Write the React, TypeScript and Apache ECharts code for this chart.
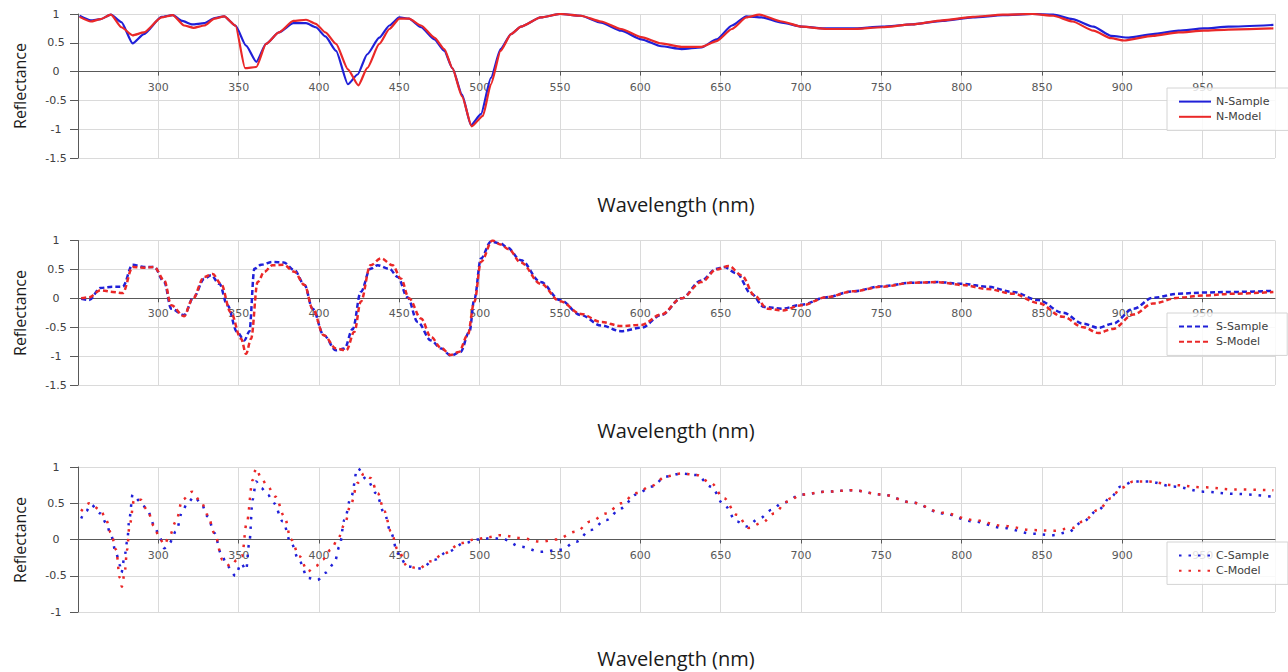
import React, { useEffect, useRef } from "react";
import * as echarts from "echarts";

// Wavelength (nm), Reflectance pairs
const nSample: [number, number][] = [
  [251, 0.97], [258, 0.89], [264, 0.91], [270.5, 0.99], [277, 0.86], [284, 0.49], [291, 0.65],
  [302, 0.95], [309, 0.98], [315, 0.88], [321, 0.82], [328.6, 0.84], [335, 0.93], [341, 0.96],
  [348, 0.8], [354.6, 0.45], [361, 0.17], [367, 0.48], [375, 0.68], [384, 0.84], [392, 0.84],
  [398, 0.77], [404, 0.61], [410.6, 0.36], [418, -0.22], [424, -0.05], [430, 0.3], [437.5, 0.59],
  [443.8, 0.8], [450, 0.94], [456, 0.92], [463.5, 0.77], [471.8, 0.56], [478, 0.36], [483, 0.06],
  [489, -0.4], [494.6, -0.93], [500.8, -0.74], [507, -0.11], [513, 0.39], [519.5, 0.65],
  [525.7, 0.78], [538, 0.94], [550, 1.0], [563, 0.97], [575.6, 0.85], [588, 0.71], [600.6, 0.56],
  [613, 0.44], [625.6, 0.39], [638, 0.42], [647.5, 0.56], [657, 0.8], [666, 0.96], [675.6, 0.94],
  [688, 0.85], [700.6, 0.78], [716, 0.75], [732, 0.75], [750.6, 0.78], [769, 0.82], [788, 0.88],
  [807, 0.94], [825.6, 0.98], [844, 1.0], [857, 0.99], [869, 0.91], [882, 0.78], [893, 0.62],
  [904, 0.59], [919, 0.65], [935, 0.71], [950.6, 0.75], [966, 0.78], [994, 0.81],
];

const nModel: [number, number][] = [
  [251, 0.95], [258, 0.87], [264, 0.91], [270.5, 0.99], [277, 0.77], [284, 0.63], [291, 0.68],
  [302, 0.94], [309, 0.98], [316, 0.8], [322, 0.76], [328.6, 0.8], [335, 0.92], [341, 0.96],
  [348, 0.8], [354, 0.06], [361, 0.08], [367, 0.48], [375, 0.68], [384, 0.88], [392, 0.9],
  [398, 0.83], [404, 0.68], [410.6, 0.48], [418, 0.04], [424.5, -0.24], [430, 0.06], [437.5, 0.48],
  [443.8, 0.74], [450, 0.92], [456, 0.92], [463.5, 0.8], [471.8, 0.59], [478, 0.39], [483, 0.06],
  [489, -0.43], [495, -0.95], [502, -0.77], [507, -0.22], [513, 0.36], [519.5, 0.65],
  [525.7, 0.78], [538, 0.94], [550, 1.0], [563, 0.97], [575.6, 0.87], [588, 0.74], [600.6, 0.6],
  [613, 0.49], [625.6, 0.43], [638, 0.43], [647.5, 0.53], [657, 0.74], [666, 0.94], [674, 0.99],
  [688, 0.87], [700.6, 0.78], [716, 0.74], [732, 0.74], [750.6, 0.77], [769, 0.82], [788, 0.89],
  [807, 0.95], [825.6, 0.99], [844, 1.0], [857, 0.97], [869, 0.87], [882, 0.71], [893, 0.58],
  [901, 0.54], [919, 0.62], [935, 0.68], [950.6, 0.71], [966, 0.73], [994, 0.75],
];

const sSample: [number, number][] = [
  [252, -0.01], [257, -0.03], [264, 0.18], [271.6, 0.2], [277.8, 0.2], [284, 0.58], [291, 0.54],
  [297.5, 0.54], [303.7, 0.28], [308, -0.18], [316, -0.29], [322, 0.02], [328.6, 0.34],
  [332.8, 0.4], [338, 0.25], [343, -0.12], [349, -0.58], [353.5, -0.73], [356.6, -0.58],
  [359.8, 0.51], [364, 0.58], [371, 0.63], [378, 0.62], [384.6, 0.49], [391, 0.23], [396, -0.18],
  [403, -0.64], [410.6, -0.9], [415.8, -0.87], [421, -0.53], [426, 0.11], [432, 0.51],
  [436.5, 0.57], [443.8, 0.51], [449, 0.37], [455, 0.02], [461.4, -0.41], [469.7, -0.73],
  [476, -0.87], [482, -0.99], [488, -0.93], [493.6, -0.58], [496.7, -0.01], [500.8, 0.69],
  [507, 0.98], [513, 0.95], [517, 0.88], [525.6, 0.66], [538, 0.28], [550, -0.03], [563, -0.29],
  [575.6, -0.47], [588, -0.57], [600.6, -0.51], [613, -0.29], [625.6, 0], [638, 0.31],
  [647.5, 0.51], [652, 0.54], [660, 0.43], [669, 0.08], [677, -0.15], [688, -0.18],
  [700.6, -0.11], [716, 0.02], [732, 0.12], [750.6, 0.21], [769, 0.27], [785, 0.28],
  [800.6, 0.25], [816, 0.2], [832, 0.11], [847.5, -0.03], [863, -0.25], [875.6, -0.44],
  [885, -0.51], [894, -0.44], [907, -0.18], [919, 0.01], [935, 0.08], [950.6, 0.1], [969, 0.11],
  [994, 0.13],
];

const sModel: [number, number][] = [
  [252, 0], [257, 0.02], [264, 0.14], [271.6, 0.11], [277.8, 0.09], [284, 0.54], [291, 0.53],
  [297.5, 0.54], [303.7, 0.31], [308, -0.12], [316, -0.31], [321, -0.03], [328.6, 0.37],
  [333.8, 0.42], [339, 0.25], [345, -0.24], [351.5, -0.7], [354.6, -0.96], [357.7, -0.7],
  [361.8, 0.28], [366, 0.46], [371, 0.57], [378, 0.58], [384.6, 0.46], [391, 0.23], [396, -0.18],
  [403, -0.64], [410.6, -0.87], [417, -0.9], [422, -0.58], [426, -0.06], [432, 0.57],
  [438.6, 0.69], [445.9, 0.57], [451, 0.34], [456, 0], [463.5, -0.35], [469.7, -0.67],
  [476, -0.86], [482, -0.98], [487, -0.93], [492.5, -0.64], [496.7, -0.06], [500.8, 0.63],
  [508, 1.0], [513, 0.93], [518, 0.85], [525.6, 0.62], [538, 0.25], [550, -0.05], [563, -0.27],
  [575.6, -0.41], [588, -0.48], [600.6, -0.46], [613, -0.28], [625.6, 0], [638, 0.28],
  [647.5, 0.5], [655, 0.56], [663, 0.4], [671, 0.05], [679, -0.18], [688, -0.21],
  [700.6, -0.12], [716, 0.02], [732, 0.12], [750.6, 0.2], [769, 0.27], [785, 0.28],
  [800.6, 0.23], [816, 0.16], [832, 0.08], [847.5, -0.08], [863, -0.32], [875.6, -0.5],
  [885, -0.6], [894, -0.53], [907, -0.28], [919, -0.09], [935, 0.01], [950.6, 0.05], [969, 0.08],
  [994, 0.11],
];

const cSample: [number, number][] = [
  [252, 0.29], [255, 0.39], [258, 0.48], [264, 0.36], [267.5, 0.23], [270.5, 0.06],
  [273.7, -0.19], [276, -0.35], [277, -0.46], [279, -0.23], [280.6, -0.03], [282, 0.29],
  [284, 0.62], [289, 0.52], [293, 0.41], [297.5, 0.2], [300.6, 0.04], [303.7, -0.12],
  [306.8, -0.05], [311, 0.11], [315, 0.39], [318, 0.5], [322.4, 0.59], [326.6, 0.5],
  [330.7, 0.32], [334.9, 0.09], [339, -0.19], [343, -0.37], [348, -0.5], [351.5, -0.33],
  [354.6, -0.42], [356.6, -0.05], [358.7, 0.55], [360.8, 0.8], [364, 0.71], [368, 0.62],
  [372, 0.5], [377.4, 0.25], [382.6, -0.05], [387.8, -0.3], [393, -0.53], [399, -0.56],
  [404, -0.46], [409.5, -0.33], [412.7, -0.1], [415.8, 0.27], [420, 0.59], [424, 0.98],
  [430, 0.82], [435.5, 0.64], [440.7, 0.36], [444.8, 0.09], [449, -0.19], [455, -0.37],
  [463.5, -0.4], [471.8, -0.28], [480, -0.17], [490.5, -0.05], [498.8, 0], [508, 0.02],
  [515, 0], [525.6, -0.1], [538, -0.17], [550.6, -0.14], [560, -0.03], [569, 0.13],
  [578.8, 0.27], [588, 0.43], [597.5, 0.62], [607, 0.73], [616, 0.87], [625.6, 0.91],
  [635, 0.89], [644, 0.73], [652, 0.48], [660, 0.25], [666, 0.18], [674, 0.29], [682, 0.41],
  [688, 0.5], [700.6, 0.62], [716, 0.66], [732, 0.68], [750.6, 0.62], [769, 0.51], [788, 0.36],
  [807, 0.25], [825.6, 0.16], [844, 0.08], [857, 0.06], [866, 0.1], [875.6, 0.25], [885, 0.41],
  [893, 0.59], [899, 0.73], [907, 0.8], [916, 0.8], [932, 0.73], [950.6, 0.66], [969, 0.63],
  [994, 0.59],
];

const cModel: [number, number][] = [
  [252, 0.39], [257, 0.5], [264, 0.41], [267.5, 0.27], [270.5, 0.09], [273.7, -0.14],
  [276, -0.53], [277.3, -0.65], [279, -0.46], [280.6, -0.14], [282, 0.18], [285, 0.55],
  [289, 0.55], [293, 0.41], [297.5, 0.18], [300.6, 0.02], [303.7, -0.07], [306.8, 0.04],
  [311, 0.25], [315, 0.55], [321, 0.66], [326.6, 0.52], [330.7, 0.34], [334.9, 0.09],
  [340, -0.28], [345, -0.37], [349, -0.28], [352, -0.23], [355, 0.23], [358.7, 0.82],
  [360.8, 0.98], [364, 0.85], [368, 0.73], [373, 0.59], [378.4, 0.32], [382.6, 0],
  [387.8, -0.23], [393, -0.44], [398, -0.37], [402, -0.28], [407.5, -0.14], [411.6, 0],
  [415.8, 0.2], [420, 0.5], [424, 0.78], [428, 0.91], [432, 0.85], [436.5, 0.64], [440.7, 0.39],
  [444.8, 0.11], [449, -0.14], [455, -0.37], [462, -0.4], [469.7, -0.3], [478, -0.19],
  [488.5, -0.05], [496.7, 0], [505, 0.03], [513, 0.06], [525.6, 0.02], [538, -0.03],
  [547.5, 0], [560, 0.11], [569, 0.25], [578.8, 0.36], [588, 0.5], [597.5, 0.64], [607, 0.74],
  [616, 0.87], [625.6, 0.91], [635, 0.89], [644, 0.78], [652, 0.57], [660, 0.34], [667.5, 0.16],
  [675.6, 0.23], [683.4, 0.36], [691, 0.52], [700.6, 0.62], [716, 0.66], [732, 0.68],
  [750.6, 0.62], [769, 0.51], [788, 0.37], [807, 0.27], [825.6, 0.19], [844, 0.13], [857, 0.12],
  [869, 0.16], [875.6, 0.25], [885, 0.41], [893, 0.57], [899, 0.71], [907, 0.8], [916, 0.8],
  [932, 0.75], [950.6, 0.72], [969, 0.69], [994, 0.68],
];

const panelNames = [
  ["N-Sample", "N-Model"],
  ["S-Sample", "S-Model"],
  ["C-Sample", "C-Model"],
];
const yMins = [-1.5, -1.5, -1];
const xTitle = "Wavelength (nm)";
const yTitle = "Reflectance";

const BLUE = "#2020d8";
const RED = "#ea2828";
const AXIS = "#595959";
const GRID = "#dadada";

export default function App() {
  const ref = useRef<HTMLDivElement>(null);

  useEffect(() => {
    if (!ref.current) return;
    const chart = echarts.init(ref.current, null, { renderer: "svg" });

    const grids = [
      { top: 14, height: 144 },
      { top: 240.5, height: 144.5 },
      { top: 467, height: 145 },
    ];
    const legendTops = [88, 313, 542];
    const yTitleCenters = [86, 313, 540];
    const xTitleCenters = [204, 430, 658];
    const dashes: any[] = ["solid", [5, 3], [2.5, 7]];
    const widths = [2.2, 2.5, 2.5];
    const data = [
      [nSample, nModel],
      [sSample, sModel],
      [cSample, cModel],
    ];

    const series: any[] = [];
    data.forEach((pair, i) => {
      pair.forEach((d, j) => {
        const color = j === 0 ? BLUE : RED;
        series.push({
          type: "line",
          name: panelNames[i][j],
          xAxisIndex: i,
          yAxisIndex: i,
          data: d,
          symbol: "none",
          showSymbol: false,
          smooth: i === 0 ? 0.2 : 0.35,
          smoothMonotone: "x",
          itemStyle: { color },
          lineStyle: { color, width: widths[i], type: dashes[i], cap: "butt" },
          emphasis: { disabled: true },
        });
      });
    });

    const graphic: any[] = [];
    for (let i = 0; i < 3; i++) {
      graphic.push({
        type: "text",
        x: 20,
        y: yTitleCenters[i],
        rotation: Math.PI / 2,
        style: {
          text: yTitle,
          fontSize: 16,
          fontFamily: "Open Sans",
          fill: "#1a1a1a",
          align: "center",
          verticalAlign: "middle",
          textAlign: "center",
          textVerticalAlign: "middle",
        },
      });
      graphic.push({
        type: "text",
        x: 676,
        y: xTitleCenters[i],
        style: {
          text: xTitle,
          fontSize: 20,
          fontFamily: "Open Sans",
          fill: "#1a1a1a",
          align: "center",
          verticalAlign: "middle",
          textAlign: "center",
          textVerticalAlign: "middle",
        },
      });
    }

    // distance from grid bottom up to the zero line: the x axis sits on zero
    const zeroOffsets = grids.map((g, i) => -(g.height * (-yMins[i]) / (1 - yMins[i])));

    const option: any = {
      animation: false,
      backgroundColor: "#ffffff",
      grid: grids.map((g) => ({ left: 78, right: 13, top: g.top, height: g.height })),
      xAxis: grids.map((_, i) => ({
        type: "value",
        gridIndex: i,
        min: 250,
        max: 995,
        interval: 50,
        position: "bottom",
        offset: zeroOffsets[i],
        axisLine: { onZero: false, lineStyle: { color: AXIS, width: 1 } },
        axisTick: { show: true, length: 4, lineStyle: { color: AXIS } },
        axisLabel: {
          showMinLabel: false,
          showMaxLabel: false,
          color: AXIS,
          fontSize: 11,
          fontFamily: "DejaVu Sans",
          margin: 10,
        },
        splitLine: { show: true, lineStyle: { color: GRID, width: 1 } },
      })),
      yAxis: grids.map((_, i) => ({
        type: "value",
        gridIndex: i,
        min: yMins[i],
        max: 1,
        interval: 0.5,
        axisLine: { show: true, onZero: false, lineStyle: { color: AXIS, width: 1 } },
        axisTick: { show: true, length: 8, lineStyle: { color: AXIS } },
        axisLabel: {
          align: "center",
          margin: 22,
          color: "#404040",
          fontSize: 11,
          fontFamily: "DejaVu Sans",
        },
        splitLine: { show: true, lineStyle: { color: GRID, width: 1 } },
      })),
      legend: panelNames.map((names, i) => ({
        data: names,
        orient: "vertical",
        left: 1167,
        top: legendTops[i],
        itemWidth: 32,
        itemHeight: 14,
        itemGap: 4,
        padding: [8, 19, 8, 11],
        backgroundColor: "rgba(255,255,255,0.82)",
        borderColor: "#d4d4d4",
        borderWidth: 1,
        selectedMode: false,
        itemStyle: { opacity: 0 },
        textStyle: { fontSize: 11, fontFamily: "DejaVu Sans", color: "#404040" },
      })),
      graphic,
      series,
    };

    chart.setOption(option);
    return () => chart.dispose();
  }, []);

  return (
    <div
      ref={ref}
      style={{ position: "absolute", left: 0, top: 0, width: 1288, height: 672 }}
    />
  );
}
